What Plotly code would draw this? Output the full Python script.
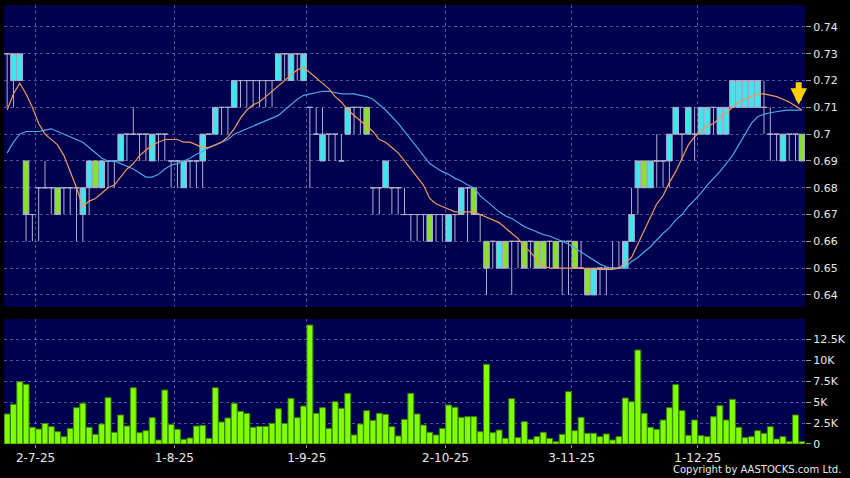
import plotly.graph_objects as go

# ---------------- data ----------------
opens = [0.73,0.72,0.72,0.69,0.67,0.68,0.68,0.68,0.68,0.68,
         0.68,0.68,0.67,0.68,0.69,0.68,0.69,0.69,0.69,0.70,
         0.70,0.70,0.70,0.69,0.70,0.70,0.69,0.69,0.68,0.69,
         0.69,0.69,0.70,0.70,0.71,0.71,0.71,0.72,0.72,0.72,
         0.72,0.72,0.72,0.72,0.73,0.72,0.73,0.72,0.71,0.70,
         0.69,0.70,0.70,0.69,0.70,0.71,0.71,0.71,0.68,0.68,
         0.68,0.68,0.68,0.67,0.67,0.67,0.67,0.67,0.67,0.67,
         0.66,0.67,0.67,0.68,0.68,0.67,0.66,0.66,0.65,0.66,
         0.66,0.66,0.66,0.66,0.66,0.66,0.66,0.66,0.66,0.66,
         0.66,0.65,0.65,0.64,0.65,0.65,0.65,0.65,0.65,0.66,
         0.68,0.69,0.68,0.69,0.69,0.69,0.70,0.70,0.70,0.70,
         0.70,0.70,0.71,0.70,0.70,0.71,0.71,0.71,0.71,0.71,
         0.71,0.70,0.70,0.69,0.70,0.70,0.70]
highs = [0.73,0.73,0.73,0.69,0.67,0.68,0.69,0.68,0.68,0.68,
         0.68,0.68,0.68,0.69,0.69,0.69,0.69,0.69,0.70,0.70,
         0.71,0.70,0.70,0.70,0.70,0.70,0.69,0.69,0.69,0.69,
         0.69,0.70,0.70,0.71,0.71,0.71,0.72,0.72,0.72,0.72,
         0.72,0.72,0.72,0.73,0.73,0.73,0.73,0.73,0.71,0.71,
         0.71,0.70,0.70,0.70,0.71,0.71,0.71,0.71,0.68,0.68,
         0.69,0.68,0.68,0.68,0.67,0.67,0.67,0.67,0.67,0.67,
         0.67,0.67,0.68,0.68,0.68,0.67,0.66,0.66,0.66,0.66,
         0.66,0.66,0.66,0.66,0.66,0.66,0.66,0.66,0.66,0.66,
         0.66,0.66,0.65,0.65,0.65,0.65,0.66,0.66,0.66,0.68,
         0.69,0.69,0.69,0.70,0.69,0.70,0.71,0.70,0.71,0.71,
         0.71,0.71,0.71,0.71,0.71,0.72,0.72,0.72,0.72,0.72,
         0.72,0.71,0.70,0.70,0.70,0.70,0.70]
lows = [0.71,0.71,0.72,0.66,0.66,0.66,0.68,0.67,0.67,0.67,
        0.67,0.66,0.66,0.67,0.68,0.68,0.68,0.68,0.69,0.69,
        0.70,0.69,0.69,0.69,0.69,0.69,0.68,0.68,0.68,0.68,
        0.68,0.68,0.70,0.70,0.70,0.70,0.71,0.71,0.71,0.71,
        0.71,0.71,0.71,0.72,0.72,0.72,0.72,0.72,0.68,0.70,
        0.69,0.69,0.69,0.69,0.70,0.70,0.70,0.70,0.67,0.67,
        0.68,0.67,0.67,0.67,0.66,0.66,0.66,0.66,0.66,0.66,
        0.66,0.66,0.67,0.66,0.67,0.66,0.64,0.65,0.65,0.65,
        0.64,0.65,0.65,0.65,0.65,0.65,0.65,0.65,0.64,0.64,
        0.65,0.65,0.64,0.64,0.64,0.64,0.65,0.65,0.65,0.66,
        0.67,0.68,0.68,0.68,0.68,0.68,0.70,0.69,0.70,0.69,
        0.70,0.70,0.70,0.70,0.70,0.71,0.71,0.71,0.71,0.71,
        0.70,0.69,0.69,0.69,0.69,0.69,0.69]
closes = [0.73,0.73,0.73,0.67,0.67,0.68,0.68,0.68,0.67,0.68,
          0.68,0.68,0.68,0.69,0.68,0.69,0.69,0.69,0.70,0.70,
          0.70,0.70,0.70,0.70,0.70,0.70,0.69,0.69,0.69,0.69,
          0.69,0.70,0.70,0.71,0.71,0.71,0.72,0.72,0.72,0.72,
          0.72,0.72,0.72,0.73,0.73,0.73,0.73,0.73,0.71,0.70,
          0.70,0.70,0.70,0.69,0.71,0.71,0.71,0.70,0.68,0.68,
          0.69,0.68,0.68,0.67,0.67,0.67,0.67,0.66,0.67,0.67,
          0.67,0.67,0.68,0.68,0.67,0.67,0.65,0.66,0.66,0.65,
          0.66,0.66,0.65,0.66,0.65,0.65,0.66,0.65,0.66,0.66,
          0.65,0.65,0.64,0.65,0.65,0.65,0.65,0.65,0.66,0.67,
          0.69,0.68,0.69,0.69,0.69,0.70,0.71,0.70,0.71,0.70,
          0.71,0.71,0.71,0.71,0.71,0.72,0.72,0.72,0.72,0.72,
          0.71,0.70,0.70,0.70,0.70,0.70,0.69]
ma_fast = [0.709,0.715,0.719,0.715,0.710,0.704,0.700,0.698,0.696,0.692,
           0.686,0.680,0.673,0.675,0.676,0.678,0.680,0.681,0.684,0.687,
           0.689,0.692,0.694,0.696,0.697,0.698,0.698,0.698,0.697,0.697,
           0.696,0.695,0.695,0.696,0.697,0.699,0.702,0.706,0.709,0.711,
           0.712,0.714,0.716,0.718,0.720,0.722,0.724,0.725,0.723,0.721,
           0.719,0.717,0.714,0.712,0.709,0.707,0.705,0.703,0.701,0.698,
           0.697,0.695,0.693,0.690,0.687,0.684,0.681,0.676,0.674,0.673,
           0.672,0.671,0.671,0.671,0.671,0.670,0.669,0.668,0.667,0.665,
           0.663,0.661,0.658,0.656,0.653,0.651,0.650,0.650,0.650,0.650,
           0.650,0.650,0.6495,0.6495,0.6495,0.6495,0.6495,0.650,0.652,0.654,
           0.659,0.664,0.669,0.674,0.677,0.682,0.686,0.691,0.696,0.699,
           0.701,0.703,0.704,0.706,0.708,0.710,0.712,0.713,0.714,0.715,
           0.715,0.7145,0.714,0.713,0.712,0.7105,0.709]
ma_slow = [0.693,0.697,0.700,0.701,0.701,0.701,0.7015,0.702,0.701,0.700,
           0.699,0.698,0.697,0.695,0.693,0.691,0.690,0.690,0.689,0.688,
           0.687,0.6855,0.684,0.684,0.685,0.687,0.6885,0.689,0.690,0.691,
           0.6925,0.6935,0.695,0.696,0.697,0.698,0.700,0.701,0.702,0.703,
           0.704,0.705,0.706,0.707,0.709,0.711,0.713,0.7145,0.715,0.7155,
           0.716,0.716,0.7155,0.715,0.715,0.715,0.7145,0.714,0.713,0.711,
           0.709,0.7065,0.704,0.701,0.698,0.695,0.692,0.689,0.6875,0.686,
           0.685,0.6835,0.6825,0.681,0.680,0.677,0.675,0.673,0.671,0.6695,
           0.6685,0.667,0.6655,0.6645,0.6635,0.6625,0.662,0.661,0.660,0.659,
           0.6575,0.656,0.6545,0.653,0.6515,0.6505,0.650,0.650,0.650,0.6525,
           0.654,0.656,0.658,0.6605,0.663,0.665,0.668,0.670,0.673,0.6755,
           0.678,0.681,0.6835,0.686,0.689,0.692,0.696,0.700,0.704,0.7065,
           0.7075,0.708,0.7085,0.7088,0.709,0.709,0.709]
volumes = [3590,4750,7450,7140,2000,1790,2470,2070,1470,880,
           1870,4340,4870,2000,1160,2390,5540,1400,3470,2150,
           6730,1350,1590,3150,480,6460,2350,1760,560,720,
           2150,2230,680,6730,2630,3110,4870,3910,3670,2000,
           2110,2110,2470,4220,2470,5460,3150,4540,14230,3670,
           4340,1870,5060,4270,6060,1080,2390,3990,2830,3670,
           3550,2070,960,2950,6060,3590,2270,1400,1080,1870,
           4660,4390,3190,3270,3270,1470,9530,1350,1670,680,
           5420,760,2670,560,880,1400,680,280,1160,6260,
           1590,3190,1280,1280,880,1200,480,880,5500,5060,
           11240,3670,2000,1760,2870,4340,7100,3990,1040,2870,
           1000,880,3270,4590,2870,5340,2000,760,880,1590,
           1280,2070,600,880,280,3470,280]

price_ticks = [0.64,0.65,0.66,0.67,0.68,0.69,0.70,0.71,0.72,0.73,0.74]
price_labels = ["0.64","0.65","0.66","0.67","0.68","0.69","0.7","0.71","0.72","0.73","0.74"]
vol_ticks = [0,2500,5000,7500,10000,12500]
vol_labels = ["0","2.5K","5K","7.5K","10K","12.5K"]
date_bars = [4,26,47,69,89,109]          # bar index of each labelled date
date_labels = ["2-7-25","1-8-25","1-9-25","2-10-25","3-11-25","1-12-25"]

x = list(range(len(closes)))
grid_pos = [b + 0.5 for b in date_bars]

# ---------------- styles ----------------
NAVY = "#000050"
GRID = "rgba(150,150,195,0.55)"
WICK = "#b0b0cc"
CYAN = "#3ee6ef"
GREEN = "#88e228"
TXT = "#e8e8e8"
FONT = "DejaVu Sans"

fig = go.Figure()
fig.add_trace(go.Candlestick(
    x=x, open=opens, high=highs, low=lows, close=closes,
    increasing=dict(line=dict(color=WICK, width=1), fillcolor=CYAN),
    decreasing=dict(line=dict(color=WICK, width=1), fillcolor=GREEN),
    whiskerwidth=0, xaxis="x", yaxis="y", hoverinfo="skip"))
fig.add_trace(go.Scatter(x=x, y=ma_slow, mode="lines",
                         line=dict(color="#4aa6e6", width=1.2), xaxis="x", yaxis="y"))
fig.add_trace(go.Scatter(x=x, y=ma_fast, mode="lines",
                         line=dict(color="#f09a5c", width=1.2), xaxis="x", yaxis="y"))
fig.add_trace(go.Bar(x=x, y=volumes, xaxis="x2", yaxis="y2",
                     marker=dict(color="#80ff00", line=dict(color="#3a8000", width=1))))

xcommon = dict(range=[-0.5, len(x) - 0.5], tickvals=grid_pos, showgrid=True,
               gridcolor=GRID, griddash="3px,3px", gridwidth=1, zeroline=False,
               showline=False, fixedrange=True)
fig.update_layout(
    width=850, height=478,
    paper_bgcolor="#000000", plot_bgcolor=NAVY,
    margin=dict(l=4, r=43, t=5, b=34),
    showlegend=False, hovermode=False, boxgap=0.12, boxgroupgap=0, bargap=0.06,
    font=dict(family=FONT, color=TXT, size=11),
    xaxis=dict(domain=[0, 1], anchor="y", showticklabels=False, ticks="",
               rangeslider=dict(visible=False), **xcommon),
    yaxis=dict(domain=[0.3121, 1], side="right", range=[0.6355, 0.7482],
               tickvals=price_ticks, ticktext=price_labels, showgrid=True,
               gridcolor=GRID, griddash="3px,3px", zeroline=False,
               ticks="outside", ticklen=5, tickcolor="#9a9a9a",
               tickfont=dict(size=11, color=TXT)),
    xaxis2=dict(domain=[0, 1], anchor="y2", ticktext=date_labels,
                ticks="outside", ticklen=3, tickcolor="#9a9a9a",
                tickfont=dict(size=12, color=TXT), **xcommon),
    yaxis2=dict(domain=[0, 0.2847], side="right", range=[0, 14950],
                tickvals=vol_ticks, ticktext=vol_labels, showgrid=True,
                gridcolor=GRID, griddash="3px,3px", zeroline=False,
                ticks="outside", ticklen=5, tickcolor="#9a9a9a",
                tickfont=dict(size=11, color=TXT)),
)

# yellow down arrow at the last bar
fig.add_annotation(x=x[-1] - 0.5, y=0.711, xref="x", yref="y", text="",
                   showarrow=True, arrowhead=2, arrowsize=0.55, arrowwidth=6,
                   arrowcolor="#ffd200", ax=0, ay=-24)
fig.add_annotation(text="Copyright by AASTOCKS.com Ltd.", xref="paper", yref="paper",
                   x=1.0473, y=-0.059, xanchor="right", yanchor="middle",
                   showarrow=False, font=dict(size=10, color=TXT, family=FONT))

fig.write_html("out.html", config={"displayModeBar": False, "staticPlot": True},
               post_script="document.body.style.margin='0';"
                           "document.body.style.overflow='hidden';"
                           "document.body.style.background='#000';")
